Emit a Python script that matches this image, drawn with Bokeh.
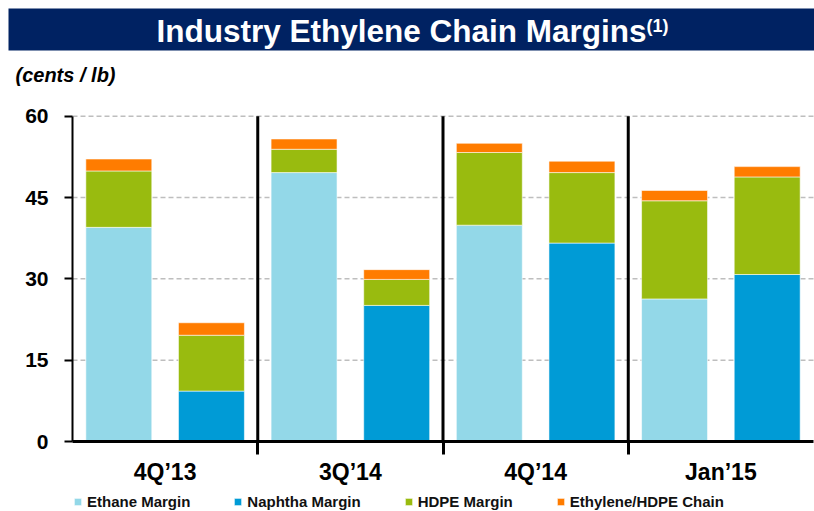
from bokeh.plotting import figure
from bokeh.models import (Range1d, LinearAxis, FixedTicker, Legend,
                          LegendItem, ColumnDataSource)
from bokeh.embed import file_html
from bokeh.resources import INLINE
from bokeh.core.properties import value

# ---- data (cents / lb) ----
periods = ["4Q\u201913", "3Q\u201914", "4Q\u201914", "Jan\u201915"]
ethane_margin = [39.5, 49.6, 39.9, 26.3]
ethane_hdpe = [10.4, 4.3, 13.4, 18.1]
ethane_chain = [2.2, 1.9, 1.7, 1.9]
naphtha_margin = [9.3, 25.1, 36.6, 30.8]
naphtha_hdpe = [10.3, 4.8, 13.0, 18.0]
naphtha_chain = [2.3, 1.8, 2.1, 1.9]
y_ticks = [0, 15, 30, 45, 60]

series_names = ["Ethane Margin", "Naphtha Margin", "HDPE Margin", "Ethylene/HDPE Chain"]
C_ETH, C_NAP, C_HDPE, C_CHAIN = "#93D8E8", "#009BD6", "#99BB0F", "#FF7C00"

FONT = "Liberation Sans"
NAVY = "#002262"

# ---- canvas / plot geometry (pixels) ----
W, H = 814, 511
AX_LEFT, AX_RIGHT = 72, 813      # x pixel of first group start / last group end
AX_BOTTOM, AX_TOP = 441, 115.7   # y pixel of value 0 / top value
n = len(periods)
YMAX = y_ticks[-1]
xs = (AX_RIGHT - AX_LEFT) / n
ys = (AX_BOTTOM - AX_TOP) / YMAX

def dx(px):
    return (px - AX_LEFT) / xs

def dy(py):
    return (AX_BOTTOM - py) / ys

p = figure(width=W, height=H, x_range=Range1d(dx(0), dx(W)), y_range=Range1d(dy(H), dy(0)),
           toolbar_location=None, output_backend="svg",
           x_axis_type=None, y_axis_type=None, min_border=0,
           outline_line_color=None, background_fill_color="white", border_fill_color="white")

# header bar and titles
p.quad(left=[dx(8)], right=[dx(W)], top=[dy(8)], bottom=[dy(50)], fill_color=NAVY, line_color=None)
p.text(x=[dx(156)], y=[dy(30.5)], text=["Industry Ethylene Chain Margins"],
       text_font=value(FONT), text_font_style="bold", text_font_size="31.5px",
       text_color="white", text_align="left", text_baseline="alphabetic")
p.text(x=[dx(646)], y=[dy(25.2)], text=["(1)"],
       text_font=value(FONT), text_font_style="bold", text_font_size="18px",
       text_color="white", text_align="left", text_baseline="alphabetic")
p.text(x=[dx(15)], y=[dy(74.2)], text=["(cents / lb)"],
       text_font=value(FONT), text_font_style="bold italic", text_font_size="20px",
       text_color="black", text_align="left", text_baseline="alphabetic")

# horizontal dashed grid lines (drawn under the bars)
grid_vals = y_ticks[1:]
p.segment(x0=[0] * len(grid_vals), y0=grid_vals, x1=[n] * len(grid_vals), y1=grid_vals,
          line_color="#BEBEBE", line_dash="5 3", line_width=1.5)

# bars
eth_x = [i + 0.25 for i in range(n)]
nap_x = [i + 0.75 for i in range(n)]
eth_src = ColumnDataSource(dict(x=eth_x, base=ethane_margin, hdpe=ethane_hdpe, chain=ethane_chain))
nap_src = ColumnDataSource(dict(x=nap_x, base=naphtha_margin, hdpe=naphtha_hdpe, chain=naphtha_chain))

bw = 0.356
eth_r = p.vbar_stack(["base", "hdpe", "chain"], x="x", width=bw, source=eth_src,
                     color=[C_ETH, C_HDPE, C_CHAIN], line_color="white", line_width=0.8, line_alpha=0.7)
nap_r = p.vbar_stack(["base", "hdpe", "chain"], x="x", width=bw, source=nap_src,
                     color=[C_NAP, C_HDPE, C_CHAIN], line_color="white", line_width=0.8, line_alpha=0.7)

# group separators
bounds = list(range(1, n))
p.segment(x0=bounds, y0=[0] * len(bounds), x1=bounds, y1=[YMAX] * len(bounds),
          line_color="black", line_width=3)

# y axis
yticker = FixedTicker(ticks=y_ticks)
yax = LinearAxis(ticker=yticker, fixed_location=0, bounds=(0, YMAX),
                 axis_line_width=2, axis_line_color="black",
                 major_tick_out=8, major_tick_in=0, major_tick_line_width=2,
                 minor_tick_line_color=None, major_label_standoff=16,
                 major_label_text_font=FONT, major_label_text_font_style="bold",
                 major_label_text_font_size="21px", major_label_text_color="black")
p.add_layout(yax, "left")

# x axis: line + group boundary ticks
xax1 = LinearAxis(ticker=FixedTicker(ticks=bounds), fixed_location=0, bounds=(0, n),
                  axis_line_width=3, axis_line_color="black",
                  major_tick_out=13, major_tick_in=0, major_tick_line_width=3,
                  minor_tick_line_color=None, major_label_standoff=0,
                  major_label_overrides={b: "" for b in bounds},
                  major_label_text_font_size="1px")
p.add_layout(xax1, "below")

# x axis: period labels at group centers
centers = [i + 0.5 for i in range(n)]
xax2 = LinearAxis(ticker=FixedTicker(ticks=centers), fixed_location=0, axis_line_color=None,
                  major_tick_line_color=None, minor_tick_line_color=None,
                  major_label_standoff=11,
                  major_label_overrides={c: lab for c, lab in zip(centers, periods)},
                  major_label_text_font=FONT, major_label_text_font_style="bold",
                  major_label_text_font_size="23px", major_label_text_color="black")
p.add_layout(xax2, "below")

# legend
legend = Legend(items=[
    LegendItem(label=series_names[0], renderers=[eth_r[0]]),
    LegendItem(label=series_names[1], renderers=[nap_r[0]]),
    LegendItem(label=series_names[2], renderers=[eth_r[1]]),
    LegendItem(label=series_names[3], renderers=[eth_r[2]]),
], orientation="horizontal", location=(73, 1.5), glyph_width=9, glyph_height=9,
    label_standoff=5, spacing=43, padding=0, margin=0, border_line_color=None,
    background_fill_alpha=0, label_text_font=FONT, label_text_font_style="bold",
    label_text_font_size="15px", label_text_color="#111111", label_height=16)
p.add_layout(legend, "center")

open("out.html", "w").write(file_html(p, INLINE))
